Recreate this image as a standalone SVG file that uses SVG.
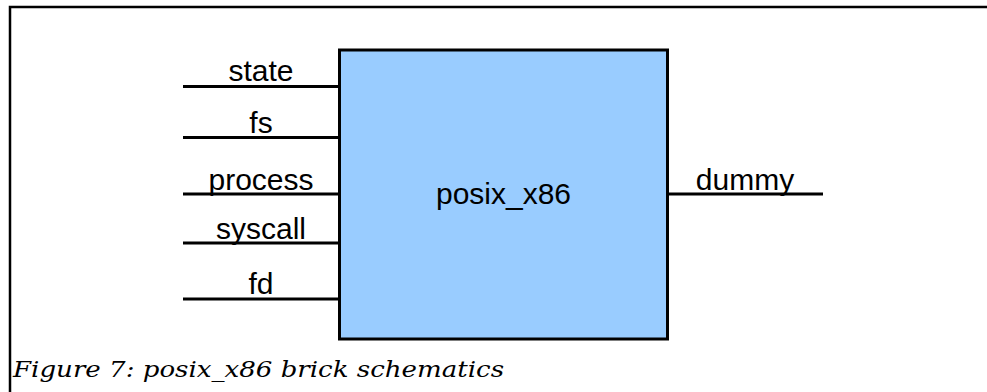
<svg xmlns="http://www.w3.org/2000/svg" width="987" height="392" viewBox="0 0 987 392">
  <style>
    .wire { stroke: #000; stroke-width: 3; fill: none; }
    .lbl { font-family: "Liberation Sans", Arial, sans-serif; font-size: 30px; fill: #000; text-anchor: middle; }
    .caption { font-family: "DejaVu Serif", "Liberation Serif", serif; font-style: italic; font-size: 23px; fill: #000; }
  </style>
  <rect width="987" height="392" fill="#fff"/>
  <!-- figure frame (open to the right and bottom) -->
  <path d="M10 392 V7 H987" fill="none" stroke="#000" stroke-width="2.5"/>

  <g id="connectors">
    <line class="wire" x1="183" y1="86.5" x2="339" y2="86.5"/>
    <line class="wire" x1="183" y1="137.5" x2="339" y2="137.5"/>
    <line class="wire" x1="183" y1="194" x2="339" y2="194"/>
    <line class="wire" x1="183" y1="243" x2="339" y2="243"/>
    <line class="wire" x1="183" y1="299" x2="339" y2="299"/>
    <line class="wire" x1="667" y1="194" x2="823" y2="194"/>
  </g>

  <g id="port-labels">
    <text class="lbl" x="261" y="81">state</text>
    <text class="lbl" x="261" y="133">fs</text>
    <text class="lbl" x="261" y="190">process</text>
    <text class="lbl" x="261" y="239">syscall</text>
    <text class="lbl" x="261" y="294">fd</text>
    <text class="lbl" x="745" y="190">dummy</text>
  </g>

  <g id="posix_x86">
    <rect x="339.5" y="50" width="328" height="289" fill="#99ccff" stroke="#000" stroke-width="3"/>
    <text class="lbl" x="503.5" y="204">posix_x86</text>
  </g>

  <text class="caption" x="13" y="377" textLength="491" lengthAdjust="spacingAndGlyphs">Figure 7: posix_x86 brick schematics</text>
</svg>
